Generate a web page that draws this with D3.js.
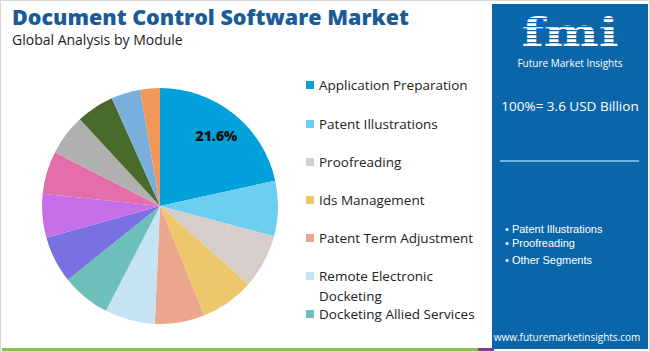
<!DOCTYPE html>
<html>
<head>
<meta charset="utf-8">
<style>
body { margin:0; background:#ffffff; }
.title { font-family: "Open Sans", Arial; font-weight:800; font-size:21.5px; fill:#1a5c98; }
.subtitle { font-family: "Open Sans", Arial; font-size:14px; fill:#222; }
.leg { font-family: "Open Sans", Arial; font-size:13.5px; fill:#222; }
.panel-txt { font-family: "Open Sans", Arial; fill:#ffffff; }
</style>
<script src="https://d3js.org/d3.v7.min.js"></script>
</head>
<body>
<script>

var categories = ["Application Preparation", "Patent Illustrations", "Proofreading", "Ids Management",
  "Patent Term Adjustment", "Remote Electronic Docketing", "Docketing Allied Services",
  "Segment 8", "Segment 9", "Segment 10", "Segment 11", "Segment 12", "Segment 13", "Segment 14"];
var shares = [21.6, 7.6, 7.4, 7.4, 6.8, 6.9, 6.7, 6.4, 6.0, 5.9, 5.6, 5.2, 4.0, 2.7];
var colors = ["#02a1dc", "#6ccff2", "#d6ceca", "#ecc76c", "#eca68e", "#c6e3f3", "#6dbfb9",
  "#7b70e2", "#c76fe8", "#e46ea9", "#b0b0b0", "#4a6a2c", "#7aafdd", "#f1975a"];
var legendNames = categories.slice(0, 7);
var bullets = ["Patent Illustrations", "Proofreading", "Other Segments"];

var width = 650, height = 352;

var svg = d3.select("body").append("svg")
  .attr("width", width).attr("height", height);

// outer frame + bottom strip
svg.append("rect").attr("x", 0.5).attr("y", 0.5).attr("width", width - 1).attr("height", height - 1)
  .attr("fill", "none").attr("stroke", "#d8d8d8");
svg.append("rect").attr("x", 2).attr("y", 348).attr("width", 478).attr("height", 3).attr("fill", "#8dc04a");
svg.append("rect").attr("x", 478).attr("y", 348).attr("width", 16).attr("height", 3).attr("fill", "#8b3a8e");

svg.append("text").attr("class", "title").attr("x", 12).attr("y", 25)
  .text("Document Control Software Market");
svg.append("text").attr("class", "subtitle").attr("x", 12).attr("y", 45)
  .text("Global Analysis by Module");

// pie
var pie = d3.pie().sort(null).value(function(d) { return d; });
var arc = d3.arc().innerRadius(0).outerRadius(118);
var color = d3.scaleOrdinal().domain(categories).range(colors);

var g = svg.append("g").attr("transform", "translate(160,206)");
var arcs = pie(shares);
g.selectAll("path").data(arcs).enter().append("path")
  .attr("d", arc)
  .attr("fill", function(d, i) { return color(categories[i]); });

var labelArc = d3.arc().innerRadius(90).outerRadius(90);
g.append("text")
  .attr("transform", "translate(" + labelArc.centroid(arcs[0]) + ")")
  .attr("text-anchor", "middle").attr("dy", "0.35em")
  .style("font-family", "Open Sans, Arial").style("font-weight", "800").style("font-size", "14px")
  .attr("fill", "#111")
  .text(shares[0] + "%");

// legend
var legY = [85, 124, 162, 200, 238, 276, 314];
var leg = svg.selectAll(".legitem").data(legendNames).enter().append("g")
  .attr("transform", function(d, i) { return "translate(306," + legY[i] + ")"; });
leg.append("rect").attr("x", 0).attr("y", -4).attr("width", 8).attr("height", 8)
  .attr("fill", function(d) { return color(d); });
leg.append("text").attr("class", "leg").attr("x", 13).attr("y", 5)
  .each(function(d) {
    var t = d3.select(this);
    if (d == "Remote Electronic Docketing") {
      t.append("tspan").attr("x", 13).text("Remote Electronic");
      t.append("tspan").attr("x", 13).attr("dy", 20).text("Docketing");
    } else {
      t.text(d);
    }
  });

// right panel
var px = 492, pw = 156;
svg.append("rect").attr("x", px).attr("y", 4).attr("width", pw).attr("height", 345).attr("fill", "#0b66a9");

// logo
var logo = svg.append("g");
logo.append("text")
  .attr("transform", "translate(" + (px + pw / 2) + ",46) scale(1.3,1)")
  .attr("text-anchor", "middle")
  .style("font-family", "DejaVu Serif").style("font-weight", "bold").style("font-size", "40px")
  .attr("fill", "#ffffff").text("fmi");
for (var yy = 14; yy < 48; yy += 4) {
  logo.append("rect").attr("x", px + 10).attr("y", yy).attr("width", pw - 20).attr("height", 1.2)
    .attr("fill", "#0b66a9");
}
logo.append("text").attr("class", "panel-txt").attr("x", px + pw / 2).attr("y", 67)
  .attr("text-anchor", "middle").style("font-size", "10px").text("Future Market Insights");

svg.append("text").attr("class", "panel-txt").attr("x", px + pw / 2).attr("y", 111)
  .attr("text-anchor", "middle").style("font-size", "13.5px").text("100%= 3.6 USD Billion");
svg.append("line").attr("x1", 500).attr("x2", 639).attr("y1", 161).attr("y2", 161)
  .attr("stroke", "#6cb4e6").attr("stroke-width", 2);

svg.selectAll(".bul").data(bullets).enter().append("text")
  .attr("class", "panel-txt").attr("x", 505)
  .attr("y", function(d, i) { return [233, 247, 264][i]; })
  .style("font-family", "Liberation Sans, Arial").style("font-size", "11px")
  .text(function(d) { return "\u2022 " + d; });

svg.append("text").attr("class", "panel-txt").attr("x", px + pw / 2 - 3).attr("y", 341)
  .attr("text-anchor", "middle").style("font-size", "10px").text("www.futuremarketinsights.com");

</script>
</body>
</html>
